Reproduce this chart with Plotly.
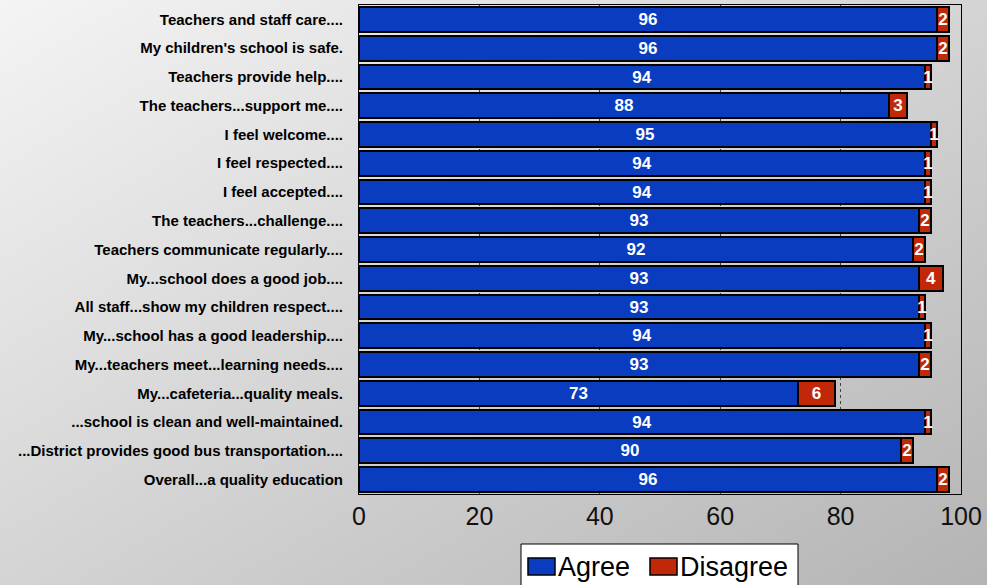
import base64
import plotly.graph_objects as go

questions = [
    "Teachers and staff care....",
    "My children's school is safe.",
    "Teachers provide help....",
    "The teachers...support me....",
    "I feel welcome....",
    "I feel respected....",
    "I feel accepted....",
    "The teachers...challenge....",
    "Teachers communicate regularly....",
    "My...school does a good job....",
    "All staff...show my children respect....",
    "My...school has a good leadership....",
    "My...teachers meet...learning needs....",
    "My...cafeteria...quality meals.",
    "...school is clean and well-maintained.",
    "...District provides good bus transportation....",
    "Overall...a quality education",
]
agree = [96, 96, 94, 88, 95, 94, 94, 93, 92, 93, 93, 94, 93, 73, 94, 90, 96]
disagree = [2, 2, 1, 3, 1, 1, 1, 2, 2, 4, 1, 1, 2, 6, 1, 2, 2]
x_ticks = [0, 20, 40, 60, 80, 100]

BLUE = "#0a3cc0"
RED = "#c02808"
FONT = "Liberation Sans, Arial, sans-serif"

W, H = 987, 585
L, R, T, B = 359, 961, 5, 494  # plot area in pixels


def px(x):
    return (x - L) / (R - L)


def py(y):
    return (B - y) / (B - T)


fig = go.Figure()

for name, vals, color in [("Agree", agree, BLUE), ("Disagree", disagree, RED)]:
    fig.add_trace(go.Bar(
        y=questions,
        x=vals,
        name=name,
        orientation="h",
        width=0.86,
        marker=dict(color=color, line=dict(color="black", width=2)),
        text=vals,
        textposition="inside",
        insidetextanchor="middle",
        textangle=0,
        constraintext="none",
        textfont=dict(color="white", size=17, family=FONT, weight="bold"),
        showlegend=False,
    ))

# grey diagonal gradient behind everything
svg = (
    '<svg xmlns="http://www.w3.org/2000/svg" width="987" height="585">'
    '<defs><linearGradient id="g" x1="0" y1="0" x2="1" y2="1">'
    '<stop offset="0" stop-color="#f4f4f4"/><stop offset="1" stop-color="#b4b4b4"/>'
    '</linearGradient></defs><rect width="987" height="585" fill="url(#g)"/></svg>'
)
bg = "data:image/svg+xml;base64," + base64.b64encode(svg.encode()).decode()
fig.add_layout_image(
    source=bg, xref="paper", yref="paper",
    x=px(0), y=py(0), sizex=W / (R - L), sizey=H / (B - T),
    sizing="stretch", layer="below",
)

# hand-made legend, large symbols like the original
fig.add_shape(type="rect", xref="paper", yref="paper",
              x0=px(521), x1=px(798), y0=py(544), y1=py(600),
              fillcolor="white", line=dict(color="black", width=1))
for x0, color, label, tx in [(528, BLUE, "Agree", 556), (650, RED, "Disagree", 678)]:
    fig.add_shape(type="rect", xref="paper", yref="paper",
                  x0=px(x0), x1=px(x0 + 27), y0=py(558), y1=py(575),
                  fillcolor=color, line=dict(color="black", width=1.5))
    fig.add_annotation(xref="paper", yref="paper", x=px(tx), y=py(567),
                       xanchor="left", yanchor="middle", showarrow=False,
                       text=label, font=dict(size=27, color="black", family=FONT))

fig.update_layout(
    width=W, height=H,
    barmode="stack",
    bargap=0,
    plot_bgcolor="white",
    paper_bgcolor="#d8d8d8",
    margin=dict(l=L, r=W - R, t=T, b=H - B, autoexpand=False),
    showlegend=False,
    font=dict(family=FONT, color="black"),
)

fig.update_xaxes(
    range=[0, 100],
    tickvals=x_ticks,
    tickfont=dict(size=25, color="#111111"),
    showgrid=True, gridcolor="#444444", gridwidth=1, griddash="dot",
    zeroline=False,
    showline=True, linecolor="black", linewidth=1, mirror=True,
    ticks="",
)
fig.update_yaxes(
    categoryorder="array", categoryarray=questions,
    autorange="reversed",
    tickfont=dict(size=15, color="black", weight="bold"),
    ticklabelstandoff=12,
    showgrid=False,
    showline=True, linecolor="black", linewidth=1, mirror=True,
    ticks="",
)

fig.write_html("out.html", config={"displayModeBar": False},
               post_script="document.body.style.margin='0';")
